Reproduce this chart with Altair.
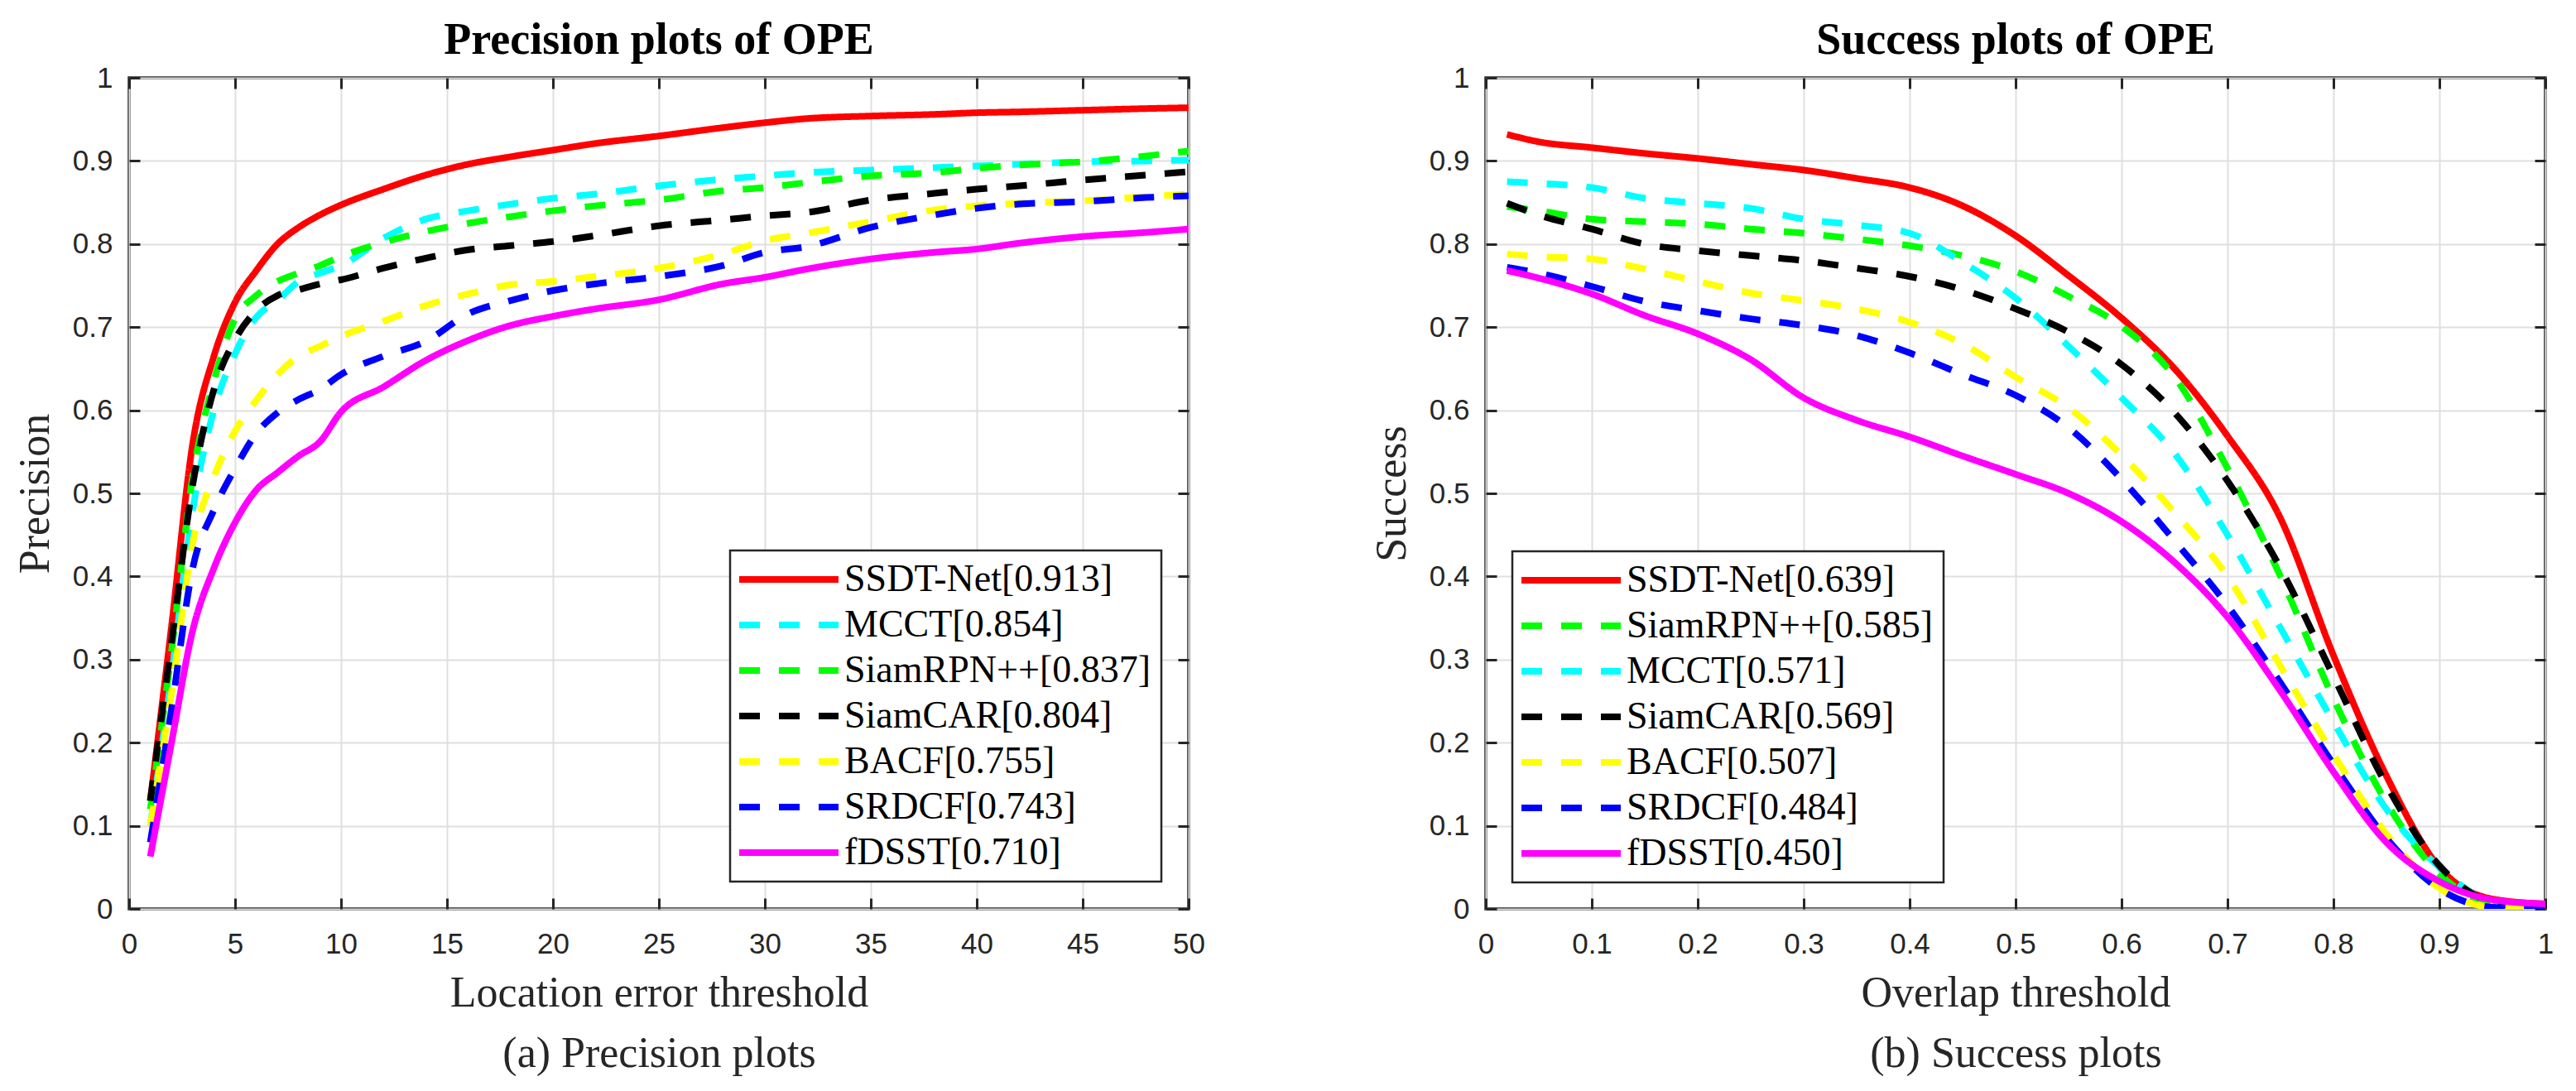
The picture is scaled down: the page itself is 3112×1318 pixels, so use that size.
import altair as alt
import pandas as pd

# ---------------- data ----------------
prec_x = [1, 2, 3, 4, 5, 6, 7, 8, 9, 10, 12, 14, 16, 18, 20, 22, 25, 28, 30, 32, 35, 38, 40, 42, 45, 48, 50]
prec_ssdt = [0.13, 0.34, 0.56, 0.665, 0.73, 0.768, 0.80, 0.82, 0.835, 0.847, 0.866, 0.883, 0.896, 0.905, 0.913, 0.921, 0.93, 0.94, 0.946, 0.951, 0.954, 0.956, 0.958, 0.959, 0.961, 0.963, 0.964]
prec_mcct = [0.10, 0.28, 0.48, 0.60, 0.668, 0.712, 0.732, 0.755, 0.765, 0.774, 0.807, 0.83, 0.84, 0.848, 0.855, 0.86, 0.87, 0.878, 0.882, 0.886, 0.889, 0.892, 0.894, 0.896, 0.899, 0.90, 0.901]
prec_siamrpn = [0.12, 0.31, 0.52, 0.635, 0.71, 0.738, 0.755, 0.765, 0.774, 0.785, 0.802, 0.815, 0.825, 0.833, 0.84, 0.846, 0.853, 0.864, 0.868, 0.874, 0.882, 0.886, 0.891, 0.895, 0.899, 0.906, 0.912]
prec_siamcar = [0.13, 0.32, 0.51, 0.625, 0.685, 0.72, 0.738, 0.745, 0.752, 0.757, 0.771, 0.783, 0.793, 0.798, 0.803, 0.81, 0.822, 0.829, 0.834, 0.838, 0.853, 0.861, 0.866, 0.87, 0.877, 0.883, 0.887]
prec_bacf = [0.10, 0.26, 0.44, 0.52, 0.575, 0.612, 0.643, 0.665, 0.677, 0.689, 0.707, 0.726, 0.74, 0.751, 0.755, 0.761, 0.771, 0.788, 0.804, 0.813, 0.827, 0.841, 0.846, 0.849, 0.852, 0.857, 0.86]
prec_srdcf = [0.08, 0.24, 0.41, 0.48, 0.53, 0.572, 0.597, 0.613, 0.625, 0.643, 0.665, 0.683, 0.716, 0.732, 0.744, 0.752, 0.761, 0.774, 0.79, 0.797, 0.82, 0.835, 0.843, 0.848, 0.851, 0.856, 0.858]
prec_fdsst = [0.063, 0.20, 0.335, 0.41, 0.465, 0.504, 0.525, 0.545, 0.562, 0.598, 0.628, 0.66, 0.684, 0.702, 0.713, 0.722, 0.733, 0.752, 0.76, 0.77, 0.782, 0.79, 0.794, 0.801, 0.809, 0.814, 0.818]

succ_x = [0.02, 0.05, 0.1, 0.15, 0.2, 0.25, 0.3, 0.35, 0.4, 0.45, 0.5, 0.55, 0.6, 0.65, 0.7, 0.75, 0.8, 0.85, 0.9, 0.95, 1.0]
succ_ssdt = [0.932, 0.923, 0.916, 0.909, 0.903, 0.896, 0.889, 0.879, 0.868, 0.846, 0.81, 0.762, 0.711, 0.65, 0.569, 0.47, 0.305, 0.16, 0.05, 0.012, 0.006]
succ_siamrpn = [0.845, 0.840, 0.830, 0.827, 0.824, 0.818, 0.813, 0.806, 0.798, 0.786, 0.767, 0.737, 0.701, 0.64, 0.53, 0.40, 0.253, 0.128, 0.042, 0.006, 0.0]
succ_mcct = [0.875, 0.873, 0.868, 0.855, 0.849, 0.843, 0.83, 0.823, 0.813, 0.778, 0.735, 0.677, 0.615, 0.548, 0.45, 0.338, 0.225, 0.12, 0.05, 0.008, 0.0]
succ_siamcar = [0.849, 0.835, 0.818, 0.80, 0.792, 0.786, 0.78, 0.771, 0.761, 0.745, 0.722, 0.694, 0.655, 0.597, 0.515, 0.41, 0.28, 0.149, 0.052, 0.008, 0.0]
succ_bacf = [0.788, 0.785, 0.782, 0.770, 0.755, 0.741, 0.732, 0.722, 0.706, 0.68, 0.64, 0.603, 0.546, 0.477, 0.40, 0.292, 0.186, 0.09, 0.025, 0.002, 0.0]
succ_srdcf = [0.772, 0.765, 0.749, 0.731, 0.72, 0.71, 0.702, 0.69, 0.669, 0.643, 0.618, 0.579, 0.517, 0.443, 0.365, 0.272, 0.174, 0.085, 0.024, 0.002, 0.0]
succ_fdsst = [0.768, 0.759, 0.740, 0.714, 0.692, 0.661, 0.615, 0.588, 0.568, 0.545, 0.523, 0.50, 0.466, 0.417, 0.351, 0.262, 0.165, 0.08, 0.033, 0.011, 0.006]

prec_names = ["SSDT-Net[0.913]", "MCCT[0.854]", "SiamRPN++[0.837]", "SiamCAR[0.804]", "BACF[0.755]", "SRDCF[0.743]", "fDSST[0.710]"]
prec_series = [prec_ssdt, prec_mcct, prec_siamrpn, prec_siamcar, prec_bacf, prec_srdcf, prec_fdsst]
prec_colors = ["#ff0000", "#00ffff", "#00ff00", "#000000", "#ffff00", "#0000ff", "#ff00ff"]
prec_solid = [True, False, False, False, False, False, True]

succ_names = ["SSDT-Net[0.639]", "SiamRPN++[0.585]", "MCCT[0.571]", "SiamCAR[0.569]", "BACF[0.507]", "SRDCF[0.484]", "fDSST[0.450]"]
succ_series = [succ_ssdt, succ_siamrpn, succ_mcct, succ_siamcar, succ_bacf, succ_srdcf, succ_fdsst]
succ_colors = ["#ff0000", "#00ff00", "#00ffff", "#000000", "#ffff00", "#0000ff", "#ff00ff"]
succ_solid = [True, False, False, False, False, False, True]

prec_xticks = [0, 5, 10, 15, 20, 25, 30, 35, 40, 45, 50]
succ_xticks = [0, 0.1, 0.2, 0.3, 0.4, 0.5, 0.6, 0.7, 0.8, 0.9, 1]
yticks = [0, 0.1, 0.2, 0.3, 0.4, 0.5, 0.6, 0.7, 0.8, 0.9, 1]

SERIF = "Liberation Serif"
SANS = "Liberation Sans"
DARK = "#262626"
W, H = 1280, 1004
TICK = 13


def frame(xs, names, series):
    rows = []
    for name, ys in zip(names, series):
        for i, (x, y) in enumerate(zip(xs, ys)):
            rows.append({"name": name, "x": x, "y": y, "i": i})
    return pd.DataFrame(rows)


def panel(xs, names, series, colors, solid, xticks, xdom, title, xtitle, ytitle, orient, loff):
    df = frame(xs, names, series)
    dashes = [[1, 0] if s else [25, 23] for s in solid]
    leg = alt.Legend(
        title=None, orient=orient, offset=loff,
        symbolType="M-2.4,0H9.6", symbolSize=400, symbolStrokeWidth=8,
        labelFont=SERIF, labelFontSize=46, labelColor="black", labelOffset=80,
        rowPadding=9, padding=12, strokeColor=DARK, fillColor="white",
        labelLimit=1000,
    )
    xs_scale = alt.Scale(domain=xdom, nice=False, zero=False)
    ys_scale = alt.Scale(domain=[0, 1], nice=False)
    base = alt.Chart(df)
    lines = base.mark_line(strokeWidth=8, interpolate="monotone", clip=True, strokeCap="butt", strokeJoin="round").encode(
        x=alt.X("x:Q", scale=xs_scale, axis=alt.Axis(
            values=xticks, format="~g", offset=-TICK, tickSize=TICK, labelPadding=25,
            labelFlush=False, labelOverlap=False, grid=True, domain=False,
            title=xtitle, titlePadding=16, titleLineHeight=73)),
        y=alt.Y("y:Q", scale=ys_scale, axis=alt.Axis(
            values=yticks, format="~g", offset=-TICK, tickSize=TICK, labelPadding=20,
            labelFlush=False, labelOverlap=False, grid=True, domain=False,
            title=ytitle, titlePadding=18)),
        color=alt.Color("name:N", scale=alt.Scale(domain=names, range=colors), legend=leg),
        strokeDash=alt.StrokeDash("name:N", scale=alt.Scale(domain=names, range=dashes), legend=leg),
        order="i:Q",
    )
    mirror = base.mark_line(opacity=0).encode(
        x=alt.X("x:Q", scale=xs_scale, axis=alt.Axis(
            orient="top", values=xticks, labels=False, offset=-TICK, tickSize=TICK,
            grid=False, domain=False, title=None)),
        y=alt.Y("y:Q", scale=ys_scale, axis=alt.Axis(
            orient="right", values=yticks, labels=False, offset=-TICK, tickSize=TICK,
            grid=False, domain=False, title=None)),
        detail="name:N",
        order="i:Q",
    )
    return alt.layer(lines, mirror).resolve_axis(x="independent", y="independent").properties(
        width=W, height=H,
        title=alt.Title(title, frame="group", anchor="middle", font=SERIF, fontSize=54,
                        fontWeight="bold", color="black", offset=1),
    )


left = panel(prec_x, prec_names, prec_series, prec_colors, prec_solid, prec_xticks, [0, 50],
             "Precision plots of OPE", ["Location error threshold", "(a) Precision plots"], "Precision",
             "bottom-right", 33)
right = panel(succ_x, succ_names, succ_series, succ_colors, succ_solid, succ_xticks, [0, 1],
              "Success plots of OPE", ["Overlap threshold", "(b) Success plots"], "Success",
              "bottom-left", 32)

chart = alt.hconcat(left, right, spacing=195).resolve_scale(
    color="independent", strokeDash="independent"
).resolve_legend(color="independent", strokeDash="independent").properties(
    padding={"top": 12, "left": 6, "right": 0, "bottom": 0},
    background="white",
).configure_view(
    stroke=DARK, strokeWidth=3.5
).configure_axis(
    labelFont=SANS, labelFontSize=35, labelColor=DARK,
    titleFont=SERIF, titleFontSize=52, titleFontWeight="normal", titleColor=DARK,
    gridColor="#dfdfdf", gridWidth=2, tickColor=DARK, tickWidth=3,
).configure_legend(
    strokeWidth=2.5, labelFont=SERIF, labelFontSize=46, labelColor="black"
)

chart.save("out.html", embed_options={"renderer": "svg", "actions": False})
